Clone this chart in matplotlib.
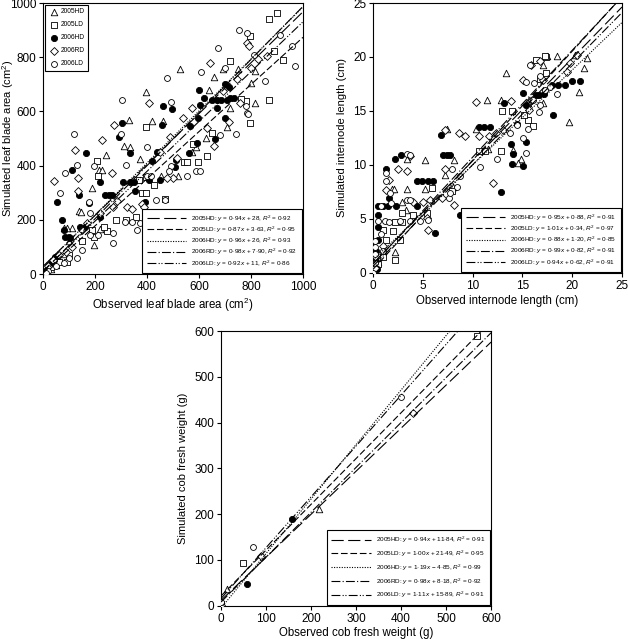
import matplotlib
matplotlib.use('Agg')
import matplotlib.pyplot as plt
import numpy as np

plt.rcParams['font.family'] = ['Liberation Sans', 'DejaVu Sans']
plt.rcParams['mathtext.fontset'] = 'custom'
plt.rcParams['mathtext.rm'] = 'Liberation Sans'
plt.rcParams['mathtext.it'] = 'Liberation Sans:italic'

series = ['2005HD', '2005LD', '2006HD', '2006RD', '2006LD']

# ---- leaf blade area (cm2): observed, simulated ----
lba_05hd = [(528,757),(396,671),(692,757),(656,727),(750,757),(817,750),(708,544),(721,612),(817,631),
            (626,501),(572,452),(420,566),(462,566),(329,569),(310,474),(333,470),(244,438),(217,383),
            (228,383),(190,317),(137,233),(146,228),(110,169),(82,171),(92,171),(195,108),(220,165),
            (374,426),(640,680),(800,705),(520,360),(590,470),(455,360),(20,30),(40,60),(60,50),(30,20),
            (80,75),(100,120),(10,15),(50,35)]
lba_05ld = [(900,963),(868,941),(922,791),(797,879),(887,822),(721,785),(797,557),(779,637),(868,643),
            (631,434),(596,413),(649,522),(397,544),(369,347),(397,357),(381,298),(397,298),(426,329),
            (208,417),(210,361),(190,163),(195,138),(246,160),(233,175),(359,212),(92,46),(541,415),
            (554,415),(577,478),(280,200),(150,120),(60,45),(30,25),(15,10),(100,70),(320,200),(470,275),
            (760,645)]
lba_06hd = [(22,33),(29,39),(41,52),(47,64),(54,267),(73,200),(79,163),(86,135),(99,135),(105,132),
            (112,384),(137,292),(144,175),(163,175),(167,446),(176,261),(221,341),(221,212),(240,292),
            (253,292),(265,292),(291,507),(304,559),(308,341),(336,448),(336,341),(351,341),(355,307),
            (394,264),(406,347),(419,417),(438,450),(451,347),(458,549),(462,619),(496,609),(509,394),
            (513,419),(560,448),(565,548),(592,485),(597,574),(605,623),(599,680),(621,648),(651,643),
            (669,643),(685,643),(701,575),(669,612),(708,643),(718,649),(733,649),(714,690),(663,498),
            (701,700)]
lba_06rd = [(41,345),(124,458),(133,353),(133,308),(227,495),(272,550),(406,631),(451,452),(490,507),
            (499,356),(537,575),(573,612),(641,778),(656,473),(691,674),(759,631),(786,852),(792,842),
            (862,803),(827,793),(265,372),(323,249),(221,224),(169,190),(150,163),(285,271),(269,249),
            (381,257),(388,249),(342,239),(477,353),(515,430),(60,70),(40,50),(20,30),(90,80),(110,100),
            (715,560),(745,720),(800,760),(630,540)]
lba_06ld = [(121,516),(64,300),(83,374),(131,401),(176,266),(195,399),(304,643),(301,517),(321,404),
            (400,470),(477,722),(494,397),(494,634),(400,363),(415,363),(436,273),(468,273),(486,382),
            (554,360),(590,382),(605,382),(608,744),(673,833),(682,514),(741,517),(786,889),(754,901),
            (786,594),(855,711),(913,883),(958,840),(969,766),(182,224),(210,144),(182,144),(269,115),
            (269,150),(317,193),(342,193),(362,163),(374,187),(131,58),(80,40),(50,30),(20,10),(10,5),
            (150,90),(100,60),(780,620),(790,590),(700,760),(810,810)]

# ---- internode length (cm) ----
il_05hd = [(11.4,16.0),(13.4,18.5),(12.8,16.0),(10.3,13.3),(7.4,13.3),(5.2,7.8),(3.4,7.8),(1.9,7.8),
           (2.1,7.8),(5.2,10.5),(8.1,10.5),(3.4,10.6),(2.9,6.6),(7.2,9.1),(2.2,1.9),(14.1,11.4),
           (14.9,10.6),(14.6,10.2),(17.1,19.3),(17.5,20.1),(18.5,20.1),(20.3,20.2),(21.5,19.9),
           (21.2,19.0),(20.7,16.8),(19.7,14.0),(15.6,15.7),(17.1,15.7),(3.3,5.8),(0.5,1.0),(1.0,2.0),
           (0.3,0.5),(8.0,8.0),(11.5,11.5)]
il_05ld = [(16.4,19.7),(17.4,20.0),(17.3,20.1),(17.4,18.5),(12.9,15.0),(15.6,14.2),(16.1,13.6),
           (10.6,11.3),(11.2,11.3),(12.8,11.3),(5.9,7.9),(7.9,7.6),(4.0,5.4),(2.9,5.6),(2.2,4.7),
           (2.9,4.7),(1.0,4.0),(2.0,3.9),(1.3,3.1),(2.7,3.1),(2.2,1.2),(5.4,5.6),(14.0,15.0),
           (15.2,14.6),(16.8,18.0),(0.5,0.8),(1.0,1.5)]
il_06hd = [(1.3,9.6),(1.6,6.9),(0.5,6.2),(1.0,6.2),(1.5,6.2),(2.3,6.2),(0.5,5.4),(0.5,4.3),(0.5,3.1),
           (2.2,10.6),(2.8,10.9),(4.4,8.5),(4.9,8.5),(5.5,8.5),(6.0,8.5),(4.4,6.2),(6.2,3.7),(6.8,12.8),
           (7.0,10.9),(7.4,10.9),(7.7,10.9),(8.7,5.4),(10.6,13.5),(11.1,13.5),(11.7,13.5),(13.1,15.7),
           (12.8,7.5),(13.9,11.9),(14.1,11.0),(14.5,13.8),(15.1,9.9),(14.0,10.1),(15.4,12.1),
           (15.4,15.6),(15.1,16.7),(16.4,16.5),(16.7,16.5),(18.0,17.4),(18.6,17.4),(19.3,17.4),
           (20.0,17.8),(20.8,17.8),(17.2,16.6),(18.1,14.6),(0.3,2.0),(0.2,1.0),(0.4,0.4)]
il_06rd = [(10.3,15.8),(9.2,12.7),(8.6,13.0),(10.6,12.7),(12.0,8.3),(11.6,12.7),(13.9,15.9),
           (15.9,19.3),(16.8,19.6),(17.1,17.9),(15.1,17.9),(19.8,19.4),(19.5,18.6),(20.5,20.2),
           (15.7,15.1),(2.5,9.6),(3.4,9.4),(3.7,10.8),(1.6,8.6),(1.3,7.7),(5.4,5.1),(5.5,4.0),
           (6.9,6.9),(7.2,9.6),(8.1,6.3),(5.7,6.8),(5.0,6.6),(4.0,6.6),(0.3,1.5),(0.2,0.5),(1.0,2.5),
           (7.2,13.2),(12.3,13.0),(13.0,13.2),(16.0,16.0)]
il_06ld = [(3.4,11.0),(3.7,10.9),(1.3,9.3),(1.3,8.5),(1.7,7.4),(1.8,6.5),(0.8,6.2),(0.5,4.8),
           (1.2,4.8),(1.6,4.7),(0.2,3.0),(0.2,2.4),(0.2,1.8),(0.2,0.9),(3.4,6.8),(3.7,6.8),(2.7,4.8),
           (3.7,4.8),(4.7,4.8),(5.5,4.9),(7.6,6.9),(7.7,7.4),(8.4,8.0),(8.7,9.0),(7.9,9.6),(10.7,9.8),
           (12.4,10.6),(13.8,13.0),(14.5,13.7),(15.1,12.5),(15.4,11.1),(15.6,13.3),(16.1,16.0),
           (16.7,14.9),(16.8,15.6),(17.3,16.9),(17.8,17.2),(18.5,16.6),(15.8,19.3),(16.8,18.2),
           (16.2,17.6),(15.4,17.7),(0.8,3.6),(1.0,2.0),(0.0,0.0)]

# ---- cob fresh weight (g) ----
cob_05hd = [(0,5),(13,36),(217,212)]
cob_05ld = [(0,3),(49,94),(568,588)]
cob_06hd = [(0,0),(57,47),(157,190)]
cob_06rd = [(0,2),(88,109),(427,422)]
cob_06ld = [(0,8),(71,129),(400,456)]

# regression fits: slope, intercept, text of slope, intercept, R2
lba_fit = [(0.94, 28, '0·94', '28', '0·92'), (0.87, 3.63, '0·87', '3·63', '0·95'),
           (0.96, 26, '0·96', '26', '0·93'), (0.98, 7.90, '0·98', '7·90', '0·92'),
           (0.92, 11, '0·92', '11', '0·86')]
il_fit = [(0.95, 0.88, '0·95', '0·88', '0·91'), (1.01, 0.34, '1·01', '0·34', '0·97'),
          (0.88, 1.20, '0·88', '1·20', '0·85'), (0.99, 0.82, '0·99', '0·82', '0·91'),
          (0.94, 0.62, '0·94', '0·62', '0·91')]
cob_fit = [(0.94, 11.84, '0·94', '11·84', '0·91'), (1.00, 21.49, '1·00', '21·49', '0·95'),
           (1.19, -4.85, '1·19', '4·85', '0·99'), (0.98, 8.18, '0·98', '8·18', '0·92'),
           (1.11, 15.89, '1·11', '15·89', '0·91')]

markers = ['^', 's', 'o', 'D', 'o']
faces = ['white', 'white', 'black', 'white', 'white']
msizes = [22, 20, 20, 16, 18]
dashes = [(0, (11, 4)), (0, (6, 2.5)), (0, (1, 1.3)), (0, (8, 2, 1, 2)), (0, (8, 2, 1, 1.5, 1, 2))]

fig = plt.figure(figsize=(6.28, 6.39), dpi=100)
ax1 = fig.add_axes([0.0685, 0.5712, 0.414, 0.424])
ax2 = fig.add_axes([0.594, 0.5728, 0.3965, 0.4225])
ax3 = fig.add_axes([0.352, 0.052, 0.430, 0.430])


def panel(ax, data, fits, vmax, ticks, xlabel, ylabel, ylab_x, leg_space, show_markers_legend=False):
    sc = []
    for i, pts in enumerate(data):
        pts = np.array(pts, dtype=float)
        h = ax.scatter(pts[:, 0], pts[:, 1], marker=markers[i], s=msizes[i], facecolors=faces[i],
                       edgecolors='black', linewidths=0.6, zorder=3, label=series[i])
        sc.append(h)
    lines = []
    xx = np.array([0, vmax])
    for i, (a, b, sa, sb, r2) in enumerate(fits):
        sign = '+' if b >= 0 else '−'
        lab = f'{series[i]}: $y$ = {sa}$x$ {sign} {sb}, $R^2$ = {r2}'
        ln, = ax.plot(xx, a * xx + b, color='black', lw=0.8, linestyle=dashes[i], zorder=4, label=lab)
        lines.append(ln)
    ax.set_xlim(0, vmax)
    ax.set_ylim(0, vmax)
    ax.set_xticks(ticks)
    ax.set_yticks(ticks)
    ax.tick_params(direction='out', length=3, width=0.8, labelsize=8.5, pad=2)
    for s in ax.spines.values():
        s.set_linewidth(0.8)
    ax.set_xlabel(xlabel, fontsize=8.3, labelpad=2)
    ax.set_ylabel(ylabel, fontsize=8)
    ax.yaxis.set_label_coords(ylab_x, 0.5)
    leg = ax.legend(handles=lines, loc='lower right', fontsize=4.6, handlelength=6.2,
                    labelspacing=leg_space, borderaxespad=0.15, frameon=True, fancybox=False,
                    framealpha=1, edgecolor='black', borderpad=0.7, handletextpad=0.8)
    leg.get_frame().set_linewidth(0.8)
    leg.set_zorder(5)
    if show_markers_legend:
        ax.add_artist(leg)
        leg2 = ax.legend(handles=sc, loc='upper left', fontsize=4.8, labelspacing=0.9,
                         borderaxespad=0.3, frameon=True, fancybox=False, framealpha=1,
                         edgecolor='black', handletextpad=0.2, borderpad=0.5, scatterpoints=1,
                         handlelength=1.6)
        leg2.get_frame().set_linewidth(0.8)


panel(ax1, [lba_05hd, lba_05ld, lba_06hd, lba_06rd, lba_06ld], lba_fit, 1000,
      [0, 200, 400, 600, 800, 1000], 'Observed leaf blade area (cm$^2$)',
      'Simulated leaf blade area (cm$^2$)', -0.105, 0.15, show_markers_legend=True)
panel(ax2, [il_05hd, il_05ld, il_06hd, il_06rd, il_06ld], il_fit, 25,
      [0, 5, 10, 15, 20, 25], 'Observed internode length (cm)',
      'Simulated internode length (cm)', -0.105, 0.15)
panel(ax3, [cob_05hd, cob_05ld, cob_06hd, cob_06rd, cob_06ld], cob_fit, 600,
      [0, 100, 200, 300, 400, 500, 600], 'Observed cob fresh weight (g)',
      'Simulated cob fresh weight (g)', -0.122, 0.55)

plt.savefig('out.png', dpi=100)
